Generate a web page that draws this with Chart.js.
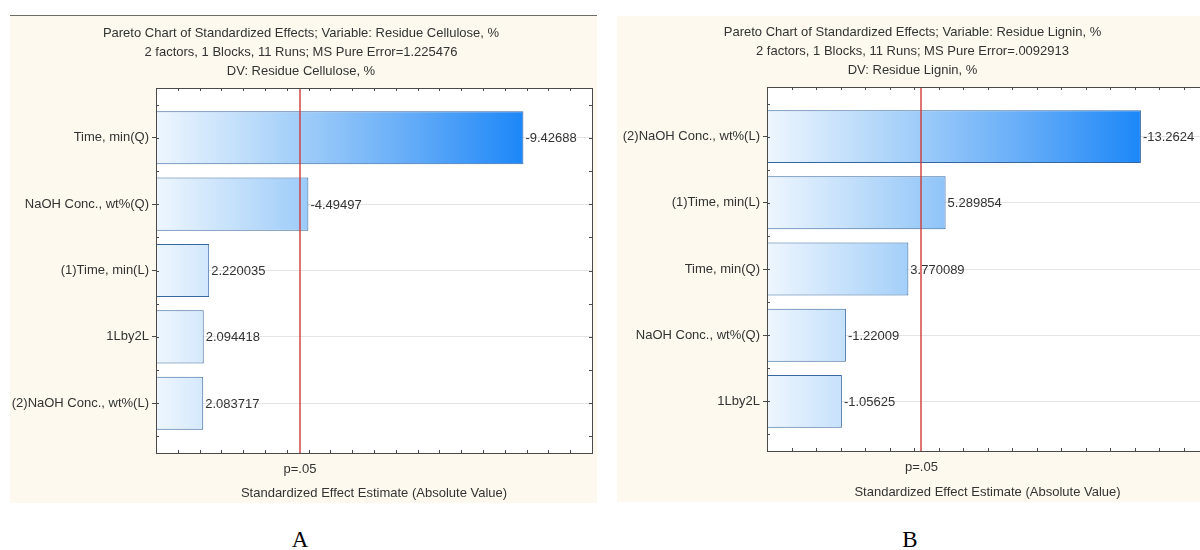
<!DOCTYPE html>
<html>
<head>
<meta charset="utf-8">
<script src="https://cdn.jsdelivr.net/npm/chart.js@4.4.1/dist/chart.umd.min.js"></script>
<style>
  html, body { margin: 0; padding: 0; width: 1200px; height: 550px; overflow: hidden; background: #ffffff; }
  .panel { position: absolute; background: #fdf9ee; }
  #panelA { left: 10px; top: 15px; width: 587px; height: 487px; border-top: 1px solid #6e6a64; }
  #panelB { left: 617px; top: 16px; width: 600px; height: 486px; }
  .panel canvas { display: block; }
  .caption { position: absolute; top: 527px; width: 60px; text-align: center;
             font-family: "Liberation Serif", "Times New Roman", serif; font-size: 23px; color: #000; }
</style>
</head>
<body>
<div class="panel" id="panelA"><canvas id="chartA" width="587" height="487"></canvas></div>
<div class="panel" id="panelB"><canvas id="chartB" width="600" height="486"></canvas></div>
<div class="caption" style="left:270px">A</div>
<div class="caption" style="left:880px">B</div>
<script>
// ---- Residue cellulose (A) ----
const effectsA = ['Time, min(Q)', 'NaOH Conc., wt%(Q)', '(1)Time, min(L)', '1Lby2L', '(2)NaOH Conc., wt%(L)'];
const estimatesA = [-9.42688, -4.49497, 2.220035, 2.094418, 2.083717];
const titleA = [
  'Pareto Chart of Standardized Effects; Variable: Residue Cellulose, %',
  '2 factors, 1 Blocks, 11 Runs; MS Pure Error=1.225476',
  'DV: Residue Cellulose, %'
];
const axisRangeA = [1, 11];

// ---- Residue lignin (B) ----
const effectsB = ['(2)NaOH Conc., wt%(L)', '(1)Time, min(L)', 'Time, min(Q)', 'NaOH Conc., wt%(Q)', '1Lby2L'];
const estimatesB = [-13.2624, 5.289854, 3.770089, -1.22009, -1.05625];
const titleB = [
  'Pareto Chart of Standardized Effects; Variable: Residue Lignin, %',
  '2 factors, 1 Blocks, 11 Runs; MS Pure Error=.0092913',
  'DV: Residue Lignin, %'
];
const axisRangeB = [-2, 16];

// t critical value, alpha = .05, 2 df pure error
const T_CRIT = 4.302653;
const critLabel = 'p=.05';
const xTitle = 'Standardized Effect Estimate (Absolute Value)';

const FONT = '"Liberation Sans", Arial, Helvetica, sans-serif';
const FS = 13;
Chart.defaults.font.family = FONT;
Chart.defaults.font.size = FS;
Chart.defaults.color = '#333333';

// white plot area, significance line, value labels, framed box with small inner ticks
const paretoDecor = {
  id: 'paretoDecor',
  beforeDraw(chart) {
    const { ctx, chartArea: a } = chart;
    ctx.save();
    ctx.fillStyle = '#ffffff';
    ctx.fillRect(a.left, a.top, a.right - a.left, a.bottom - a.top);
    ctx.restore();
  },
  afterDatasetsDraw(chart) {
    const { ctx, chartArea: a, scales } = chart;
    const meta = chart.getDatasetMeta(0);
    const vals = chart.data.datasets[0].estimates;
    ctx.save();
    // p = .05 reference line
    const cx = Math.round(scales.x.getPixelForValue(T_CRIT));
    ctx.strokeStyle = '#d03a3a';
    ctx.lineWidth = 1.4;
    ctx.beginPath();
    ctx.moveTo(cx, a.top);
    ctx.lineTo(cx, a.bottom);
    ctx.stroke();
    // signed estimate next to each bar
    ctx.font = FS + 'px ' + FONT;
    ctx.fillStyle = '#333333';
    ctx.textBaseline = 'middle';
    ctx.textAlign = 'left';
    meta.data.forEach((bar, i) => {
      ctx.fillText(String(vals[i]), bar.x + 2, bar.y + 1);
    });
    ctx.restore();
  },
  afterDraw(chart, args, opts) {
    const { ctx, chartArea: a, scales } = chart;
    ctx.save();
    ctx.strokeStyle = '#4a4a4a';
    ctx.lineWidth = 1;
    ctx.strokeRect(Math.round(a.left) + 0.5, Math.round(a.top) + 0.5,
                   Math.round(a.right - a.left), Math.round(a.bottom - a.top));
    ctx.beginPath();
    const xs = scales.x;
    for (let v = xs.min; v <= xs.max + 1e-9; v += opts.xStep) {
      const px = Math.round(xs.getPixelForValue(v)) + 0.5;
      ctx.moveTo(px, a.top); ctx.lineTo(px, a.top + 3);
      ctx.moveTo(px, a.bottom); ctx.lineTo(px, a.bottom - 3);
    }
    const ys = scales.y;
    for (let v = -0.5; v <= 4.5 + 1e-9; v += 0.5) {
      const py = Math.round(ys.getPixelForValue(v)) + 0.5;
      ctx.moveTo(a.right, py); ctx.lineTo(a.right - 3, py);
      ctx.moveTo(a.left, py); ctx.lineTo(a.left + 3, py);
    }
    ctx.stroke();
    ctx.restore();
  }
};

function makePareto(canvasId, effects, estimates, title, range, geom) {
  const magnitudes = estimates.map(v => Math.abs(v));
  const maxMag = Math.max(...magnitudes);
  const points = magnitudes.map((m, i) => ({ x: m, y: i }));

  const fill = (c) => {
    const chart = c.chart;
    const a = chart.chartArea;
    if (!a) return '#8fc3f7';
    const x1 = chart.scales.x.getPixelForValue(maxMag);
    const g = chart.ctx.createLinearGradient(a.left, 0, x1, 0);
    g.addColorStop(0, '#eef6fe');
    g.addColorStop(0.35, '#a9d2f9');
    g.addColorStop(0.7, '#62abf8');
    g.addColorStop(1, '#1c87f8');
    return g;
  };

  return new Chart(document.getElementById(canvasId), {
    type: 'bar',
    data: {
      datasets: [{
        data: points,
        estimates: estimates,
        base: range[0],
        backgroundColor: fill,
        borderColor: '#36679f',
        borderWidth: 1,
        borderSkipped: false,
        barPercentage: 0.8,
        categoryPercentage: 1
      }]
    },
    options: {
      indexAxis: 'y',
      responsive: false,
      animation: false,
      events: [],
      layout: { padding: { left: 0, right: geom.padRight, top: 0, bottom: 0 } },
      plugins: {
        legend: { display: false },
        tooltip: { enabled: false },
        title: {
          display: true,
          text: title,
          color: '#333333',
          font: { size: FS, weight: 'normal', lineHeight: '19px' },
          padding: { top: geom.titleTop, bottom: geom.titleBottom }
        },
        paretoDecor: { xStep: geom.xStep }
      },
      scales: {
        x: {
          type: 'linear',
          min: range[0],
          max: range[1],
          offset: false,
          afterBuildTicks: s => { s.ticks = [{ value: T_CRIT }]; },
          afterFit: s => { s.height = geom.xHeight; },
          ticks: { callback: () => critLabel, color: '#333333', padding: 1, font: { size: FS } },
          grid: { display: false },
          border: { display: false },
          title: {
            display: true, text: xTitle, color: '#333333',
            font: { size: FS }, padding: { top: 0, bottom: 2 }
          }
        },
        y: {
          type: 'linear',
          reverse: true,
          min: -0.75,
          max: 4.75,
          offset: false,
          afterBuildTicks: s => { s.ticks = effects.map((_, i) => ({ value: i })); },
          afterFit: s => { s.width = geom.yWidth; },
          ticks: { callback: (v, i) => effects[i], color: '#333333', padding: 3, autoSkip: false, font: { size: FS } },
          grid: { offset: false, color: '#e4e4e4', tickColor: '#4a4a4a', tickLength: 4 },
          border: { display: false }
        }
      }
    },
    plugins: [paretoDecor]
  });
}

makePareto('chartA', effectsA, estimatesA, titleA, axisRangeA,
  { yWidth: 146, padRight: 5, xHeight: 50, titleTop: 8, titleBottom: 7, xStep: 0.5 });
makePareto('chartB', effectsB, estimatesB, titleB, axisRangeB,
  { yWidth: 150, padRight: 9, xHeight: 51, titleTop: 7, titleBottom: 7, xStep: 1 });
</script>
</body>
</html>
